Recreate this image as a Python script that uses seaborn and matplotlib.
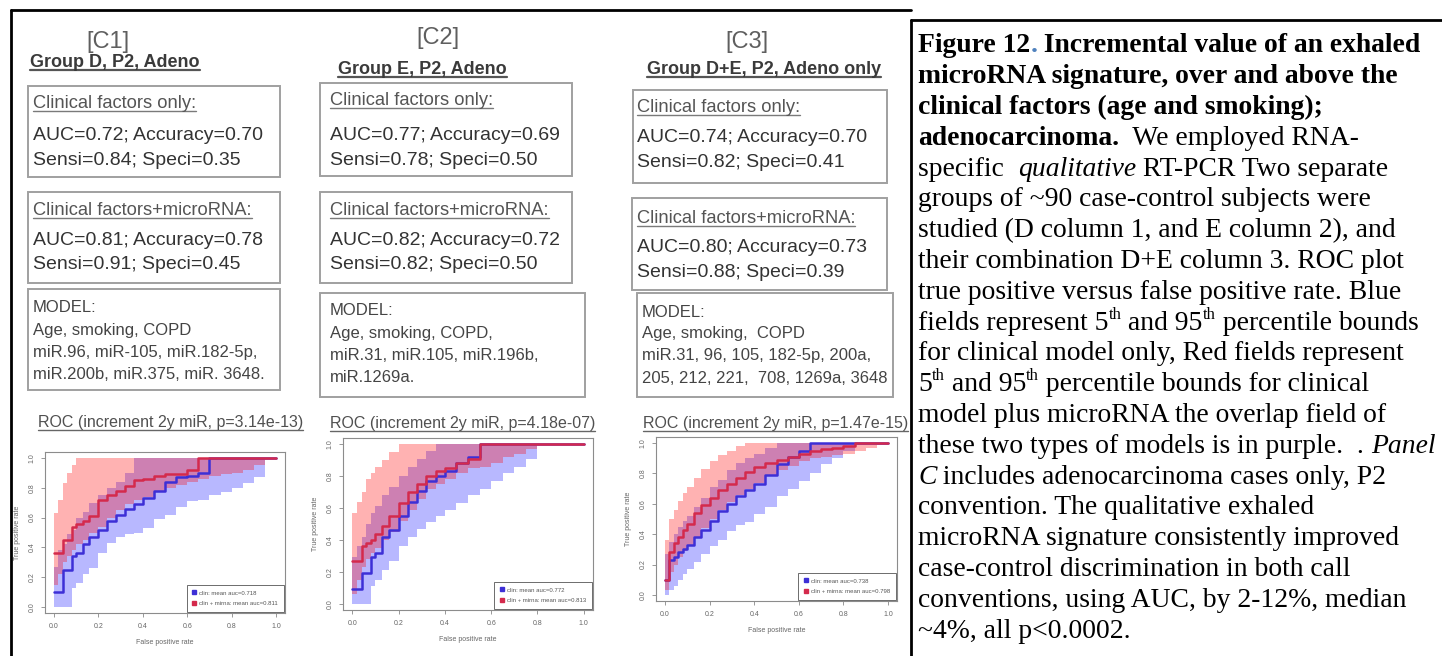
import numpy as np
import pandas as pd
import matplotlib
matplotlib.use("Agg")
import matplotlib.pyplot as plt
import seaborn as sns
from matplotlib.lines import Line2D
from matplotlib.patches import Rectangle
from matplotlib import font_manager as fm

# ---------------- data ----------------
fpr_grid = [0, .02, .04, .06, .08, .10, .13, .16, .20, .24, .28, .32, .36,
            .40, .45, .50, .55, .60, .65, .70, .75, .80, .85, .90, .95, 1.0]

c1_clin_mean = [.10, .10, .25, .25, .34, .36, .42, .47, .52, .58, .62, .66, .69,
                .73, .78, .84, .87, .88, .90, 1, 1, 1, 1, 1, 1, 1]
c1_mirna_mean = [.36, .36, .45, .45, .54, .56, .58, .61, .72, .75, .78, .81, .85,
                 .86, .88, .89, .89, .92, 1, 1, 1, 1, 1, 1, 1, 1]
c1_clin_lo = [0, 0, 0, 0, .13, .16, .22, .26, .36, .43, .47, .49, .50,
              .53, .59, .62, .67, .71, .72, .75, .77, .80, .83, .87, 1, 1]
c1_clin_hi = [.27, .38, .42, .49, .52, .60, .64, .70, .75, .80, .84, .90, 1,
              1, 1, 1, 1, 1, 1, 1, 1, 1, 1, 1, 1, 1]
c1_mirna_lo = [.15, .22, .30, .34, .38, .42, .45, .50, .54, .60, .65, .69, .72,
               .74, .77, .80, .82, .84, .86, .88, .89, .90, .92, .95, 1, 1]
c1_mirna_hi = [.63, .72, .83, .90, .95, 1, 1, 1, 1, 1, 1, 1, 1,
               1, 1, 1, 1, 1, 1, 1, 1, 1, 1, 1, 1, 1]

c2_clin_mean = [.09, .09, .19, .19, .29, .32, .42, .46, .55, .64, .71, .77, .80,
                .83, .88, .92, 1, 1, 1, 1, 1, 1, 1, 1, 1, 1]
c2_mirna_mean = [.27, .27, .36, .38, .40, .44, .49, .55, .63, .70, .75, .80, .83,
                 .85, .88, .91, 1, 1, 1, 1, 1, 1, 1, 1, 1, 1]
c2_clin_lo = [0, 0, 0, 0, .11, .15, .21, .27, .36, .42, .47, .51, .55,
              .59, .63, .68, .72, .77, .82, .86, .91, 1, 1, 1, 1, 1]
c2_clin_hi = [.29, .36, .42, .50, .57, .61, .68, .73, .80, .86, .91, .96, 1,
              1, 1, 1, 1, 1, 1, 1, 1, 1, 1, 1, 1, 1]
c2_mirna_lo = [.06, .15, .23, .28, .32, .35, .40, .45, .52, .59, .66, .72, .75,
               .78, .82, .85, .86, .88, .92, .94, .97, 1, 1, 1, 1, 1]
c2_mirna_hi = [.57, .64, .70, .78, .82, .86, .90, .95, 1, 1, 1, 1, 1,
               1, 1, 1, 1, 1, 1, 1, 1, 1, 1, 1, 1, 1]

c3_clin_mean = [.10, .23, .25, .28, .30, .33, .38, .43, .49, .55, .60, .65, .69,
                .73, .79, .86, .91, .95, 1, 1, 1, 1, 1, 1, 1, 1]
c3_mirna_mean = [.10, .28, .34, .38, .43, .47, .54, .59, .64, .69, .73, .77, .81,
                 .84, .87, .89, .91, .93, .95, .96, .97, .98, 1, 1, 1, 1]
c3_clin_lo = [0, .03, .06, .10, .14, .17, .22, .27, .32, .36, .42, .46, .48,
              .53, .58, .65, .70, .75, .80, .86, .90, .95, 1, 1, 1, 1]
c3_clin_hi = [.27, .35, .40, .45, .49, .52, .58, .64, .71, .76, .82, .87, .90,
              .93, .97, 1, 1, 1, 1, 1, 1, 1, 1, 1, 1, 1]
c3_mirna_lo = [.03, .15, .20, .25, .29, .32, .38, .44, .50, .56, .61, .66, .70,
               .74, .78, .82, .85, .88, .90, .91, .92, .93, .95, .97, .99, 1]
c3_mirna_hi = [.36, .50, .56, .62, .67, .71, .77, .83, .88, .92, .95, .98, 1,
               1, 1, 1, 1, 1, 1, 1, 1, 1, 1, 1, 1, 1]

panel_tags = ["[C1]", "[C2]", "[C3]"]
panel_groups = ["Group D, P2, Adeno", "Group E, P2, Adeno", "Group D+E, P2, Adeno only"]
clin_auc_text = ["AUC=0.72; Accuracy=0.70", "AUC=0.77; Accuracy=0.69", "AUC=0.74; Accuracy=0.70"]
clin_ss_text = ["Sensi=0.84; Speci=0.35", "Sensi=0.78; Speci=0.50", "Sensi=0.82; Speci=0.41"]
mirna_auc_text = ["AUC=0.81; Accuracy=0.78", "AUC=0.82; Accuracy=0.72", "AUC=0.80; Accuracy=0.73"]
mirna_ss_text = ["Sensi=0.91; Speci=0.45", "Sensi=0.82; Speci=0.50", "Sensi=0.88; Speci=0.39"]
model_lines = [
    ["MODEL:", "Age, smoking, COPD", "miR.96, miR-105, miR.182-5p,", "miR.200b, miR.375, miR. 3648."],
    ["MODEL:", "Age, smoking, COPD,", "miR.31, miR.105, miR.196b,", "miR.1269a."],
    ["MODEL:", "Age, smoking,  COPD", "miR.31, 96, 105, 182-5p, 200a,", "205, 212, 221,  708, 1269a, 3648"],
]
roc_titles = ["ROC (increment 2y miR, p=3.14e-13)", "ROC (increment 2y miR, p=4.18e-07)",
              "ROC (increment 2y miR, p=1.47e-15)"]
legend_clin = ["clin: mean auc=0.718", "clin: mean auc=0.772", "clin: mean auc=0.738"]
legend_mirna = ["clin + mirna: mean auc=0.811", "clin + mirna: mean auc=0.813", "clin + mirna: mean auc=0.798"]
tick_vals = [0.0, 0.2, 0.4, 0.6, 0.8, 1.0]

caption_lines = [
    [("Figure 12", "b"), (".", "bblue"), (" Incremental value of an exhaled", "b")],
    [("microRNA signature, over and above the", "b")],
    [("clinical factors (age and smoking);", "b")],
    [("adenocarcinoma.", "b"), ("  We employed RNA-", "n")],
    [("specific  ", "n"), ("qualitative", "i"), (" RT-PCR Two separate", "n")],
    [("groups of ~90 case-control subjects were", "n")],
    [("studied (D column 1, and E column 2), and", "n")],
    [("their combination D+E column 3. ROC plot", "n")],
    [("true positive versus false positive rate. Blue", "n")],
    [("fields represent 5", "n"), ("th", "sup"), (" and 95", "n"), ("th", "sup"), (" percentile bounds", "n")],
    [("for clinical model only, Red fields represent", "n")],
    [("5", "n"), ("th", "sup"), (" and 95", "n"), ("th", "sup"), (" percentile bounds for clinical", "n")],
    [("model plus microRNA the overlap field of", "n")],
    [("these two types of models is in purple.  . ", "n"), ("Panel", "i")],
    [("C", "i"), (" includes adenocarcinoma cases only, P2", "n")],
    [("convention. The qualitative exhaled", "n")],
    [("microRNA signature consistently improved", "n")],
    [("case-control discrimination in both call", "n")],
    [("conventions, using AUC, by 2-12%, median", "n")],
    [("~4%, all p<0.0002.", "n")],
]

roc_sets = [
    (c1_clin_mean, c1_mirna_mean, c1_clin_lo, c1_clin_hi, c1_mirna_lo, c1_mirna_hi),
    (c2_clin_mean, c2_mirna_mean, c2_clin_lo, c2_clin_hi, c2_mirna_lo, c2_mirna_hi),
    (c3_clin_mean, c3_mirna_mean, c3_clin_lo, c3_clin_hi, c3_mirna_lo, c3_mirna_hi),
]

# ---------------- layout (pixels, top-left origin) ----------------
W, H = 1442, 656
layouts = [
    dict(tag_x=108, tag_y=48, grp_x=30, grp_y=67,
         box1=(28, 86, 280, 177), box2=(28, 192, 280, 283), box3=(28, 289, 280, 390),
         tx=33, b1=(108, 140.5, 165.5), b2=(215, 245, 269), mx=33, m=(312, 335, 357, 379),
         title_x=38, title_y=427, ax=(45, 452, 285, 613)),
    dict(tag_x=438, tag_y=44, grp_x=338, grp_y=74,
         box1=(320, 83, 572, 176), box2=(320, 192, 572, 283), box3=(320, 293, 585, 397),
         tx=330, b1=(105, 140.5, 165.5), b2=(215, 245, 269), mx=330, m=(315, 338, 360, 382),
         title_x=330, title_y=428, ax=(343, 438, 593, 610)),
    dict(tag_x=747, tag_y=48, grp_x=647, grp_y=74,
         box1=(633, 90, 887, 183), box2=(632, 198, 887, 290), box3=(637, 293, 893, 397),
         tx=637, b1=(112, 142, 167), b2=(223, 252, 277), mx=642, m=(317, 338, 360, 383),
         title_x=643, title_y=428, ax=(656, 437, 897, 601)),
]

sns.set_theme(style="white")
plt.rcParams['font.family'] = ['Liberation Sans', 'DejaVu Sans']

names = {f.name for f in fm.fontManager.ttflist}
if 'Liberation Sans Narrow' in names:
    boxfam = ['Liberation Sans Narrow', 'DejaVu Sans']
    MAIN, SUB = 17, 16
else:
    boxfam = ['Liberation Sans', 'DejaVu Sans']
    MAIN, SUB = 14, 13.2
sans = ['Liberation Sans', 'DejaVu Sans']
serif = ['Liberation Serif', 'DejaVu Serif']

BLUE_F, RED_F = '#0000ff', '#ff0000'
BLUE_L, RED_L = '#3d2fd6', '#d42a4c'

fig = plt.figure(figsize=(W / 100, H / 100), dpi=100)
fig.patch.set_facecolor('white')
renderer = fig.canvas.get_renderer()


def fx(x):
    return x / W


def fy(y):
    return 1 - y / H


def hline(x0, x1, y, **kw):
    fig.add_artist(Line2D([fx(x0), fx(x1)], [fy(y), fy(y)], transform=fig.transFigure, **kw))


def vline(x, y0, y1, **kw):
    fig.add_artist(Line2D([fx(x), fx(x)], [fy(y0), fy(y1)], transform=fig.transFigure, **kw))


def box(x0, y0, x1, y1):
    fig.add_artist(Rectangle((fx(x0), fy(y1)), (x1 - x0) / W, (y1 - y0) / H,
                             transform=fig.transFigure, fill=False,
                             edgecolor='#a0a0a0', lw=1.4))


def ftext(x, y, s, ha='left', **kw):
    return fig.text(fx(x), fy(y), s, ha=ha, va='baseline', **kw)


def underline(t, baseline, color, lw, off=3.0):
    bb = t.get_window_extent(renderer)
    yy = H - (baseline + off)
    fig.add_artist(Line2D([bb.x0 / W, bb.x1 / W], [yy / H, yy / H],
                          transform=fig.transFigure, color=color, lw=lw))


def text_width(s, prop):
    w1 = renderer.get_text_width_height_descent(s + 'l', prop, ismath=False)[0]
    w0 = renderer.get_text_width_height_descent('l', prop, ismath=False)[0]
    return w1 - w0


# ---------------- frames ----------------
hline(11, 911, 10, color='black', lw=2)
vline(11, 10, 656, color='black', lw=2)
hline(911, 1442, 20, color='black', lw=2)
vline(911, 20, 656, color='black', lw=2)

# ---------------- panels ----------------
for i, L in enumerate(layouts):
    ftext(L['tag_x'], L['tag_y'], panel_tags[i], ha='center', size=17, color='#5f5f5f', family=sans)
    t = ftext(L['grp_x'], L['grp_y'], panel_groups[i], size=13, weight='bold', color='#3a3a3a', family=sans)
    underline(t, L['grp_y'], '#555555', 1.6, off=3)

    box(*L['box1'])
    box(*L['box2'])
    box(*L['box3'])

    b1 = L['b1']
    t = ftext(L['tx'], b1[0], "Clinical factors only:", size=SUB, color='#555555', family=boxfam)
    underline(t, b1[0], '#7a7a7a', 1.0, off=2.5)
    ftext(L['tx'], b1[1], clin_auc_text[i], size=MAIN, color='#333333', family=boxfam)
    ftext(L['tx'], b1[2], clin_ss_text[i], size=MAIN, color='#333333', family=boxfam)

    b2 = L['b2']
    t = ftext(L['tx'], b2[0], "Clinical factors+microRNA:", size=SUB, color='#555555', family=boxfam)
    underline(t, b2[0], '#7a7a7a', 1.0, off=2.5)
    ftext(L['tx'], b2[1], mirna_auc_text[i], size=MAIN, color='#333333', family=boxfam)
    ftext(L['tx'], b2[2], mirna_ss_text[i], size=MAIN, color='#333333', family=boxfam)

    for k, s in enumerate(model_lines[i]):
        ftext(L['mx'], L['m'][k], s, size=12, color='#444444', family=sans)

    t = ftext(L['title_x'], L['title_y'], roc_titles[i], size=11.5, color='#505050', family=sans)
    underline(t, L['title_y'], '#666666', 1.0, off=3)

    # ROC axes
    l, tp, r, b = L['ax']
    ax = fig.add_axes([fx(l), fy(b), (r - l) / W, (b - tp) / H])
    cm, mm, clo, chi, mlo, mhi = roc_sets[i]
    ax.fill_between(fpr_grid, clo, chi, step='post', color=BLUE_F, alpha=0.28, lw=0)
    ax.fill_between(fpr_grid, mlo, mhi, step='post', color=RED_F, alpha=0.30, lw=0)
    n = len(fpr_grid)
    df = pd.DataFrame({
        'fpr': list(fpr_grid) * 2,
        'tpr': list(cm) + list(mm),
        'model': [legend_clin[i]] * n + [legend_mirna[i]] * n,
    })
    sns.lineplot(data=df, x='fpr', y='tpr', hue='model', palette=[BLUE_L, RED_L],
                 drawstyle='steps-post', linewidth=1.8, ax=ax, legend=False,
                 estimator=None, sort=False)
    ax.set_xlim(-0.04, 1.04)
    ax.set_ylim(-0.04, 1.04)
    ax.set_xticks(tick_vals)
    ax.set_yticks(tick_vals)
    ax.set_xticklabels([f"{v:.1f}" for v in tick_vals], fontsize=5, color='#666666')
    ax.set_yticklabels([f"{v:.1f}" for v in tick_vals], fontsize=5, color='#666666',
                       rotation=90, va='center')
    ax.tick_params(bottom=True, left=True, direction='out', length=3, width=0.6,
                   color='#888888', pad=4)
    for sp in ax.spines.values():
        sp.set_visible(True)
        sp.set_color('#8c8c8c')
        sp.set_linewidth(0.8)
    ax.set_xlabel('False positive rate', fontsize=5, color='#666666', labelpad=7)
    ax.set_ylabel('True positive rate', fontsize=5, color='#666666', labelpad=5)
    ax.set_facecolor('white')
    handles = [Line2D([], [], marker='s', ls='none', color=BLUE_L, markersize=2.2),
               Line2D([], [], marker='s', ls='none', color=RED_L, markersize=2.2)]
    leg = ax.legend(handles, [legend_clin[i], legend_mirna[i]], loc='lower right',
                    fontsize=4.3, frameon=True, fancybox=False, edgecolor='#555555',
                    framealpha=1, borderpad=0.9, labelspacing=0.9, handlelength=0.6,
                    handletextpad=0.6, borderaxespad=0.25)
    leg.get_frame().set_linewidth(0.6)
    for tx in leg.get_texts():
        tx.set_color('#555555')

# ---------------- caption ----------------
cap_x = 918
cap_y0 = 52.5
cap_dy = 30.8
cap_size = 19.9
for li, segs in enumerate(caption_lines):
    x = cap_x
    yb = cap_y0 + li * cap_dy
    for s, st in segs:
        kw = dict(family=serif, size=cap_size, color='black')
        yy = yb
        if st in ('b', 'bblue'):
            kw['weight'] = 'bold'
        if st == 'bblue':
            kw['color'] = '#4f81bd'
        if st == 'i':
            kw['style'] = 'italic'
        if st == 'sup':
            kw['size'] = cap_size * 0.6
            yy = yb - cap_size * 100 / 72 * 0.40
        t = ftext(x, yy, s, **kw)
        x += text_width(s, t.get_fontproperties())

fig.savefig('out.png', dpi=100, facecolor='white')
